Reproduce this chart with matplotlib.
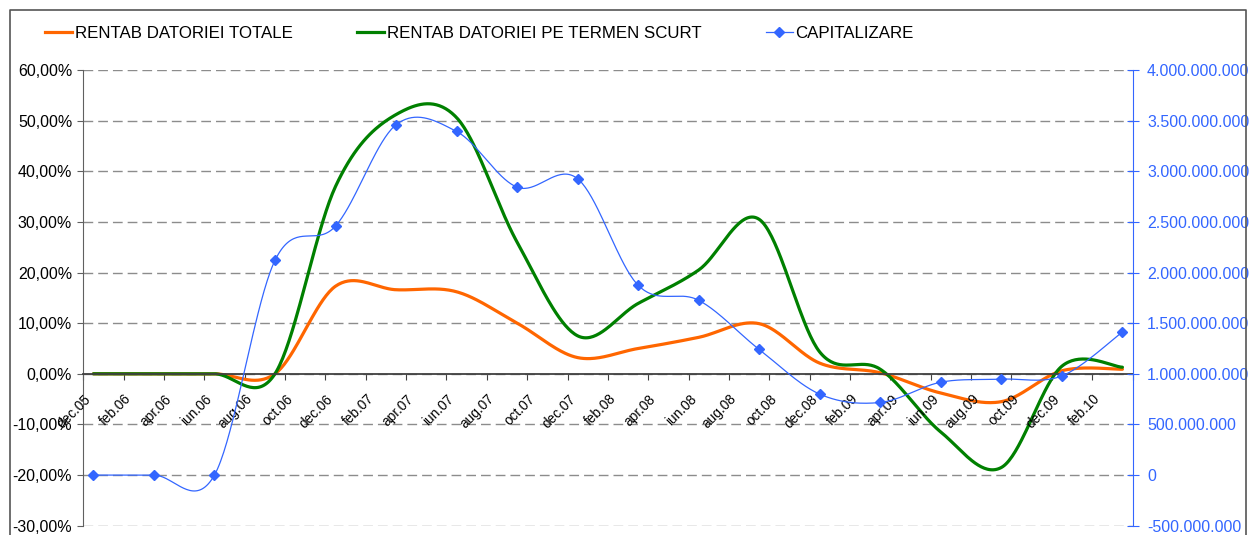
import numpy as np
import matplotlib.pyplot as plt
import matplotlib.transforms as mtransforms
from matplotlib.lines import Line2D
from matplotlib.ticker import FuncFormatter

plt.rcParams['font.family'] = ['Liberation Sans', 'DejaVu Sans']

# quarterly observations (dec.05 .. mar.10)
quarters = ['dec.05', 'mar.06', 'iun.06', 'sep.06', 'dec.06', 'mar.07', 'iun.07', 'sep.07', 'dec.07',
            'mar.08', 'iun.08', 'sep.08', 'dec.08', 'mar.09', 'iun.09', 'sep.09', 'dec.09', 'mar.10']
rentab_totale = [0, 0, 0, 0, 17.3, 16.6, 16.2, 10.0, 3.2, 5.0, 7.2, 9.9, 2.1, 0.2, -3.8, -5.5, 0.6, 0.9]
rentab_scurt = [0, 0, 0, 0, 37.0, 51.2, 50.6, 26.0, 7.5, 13.9, 20.5, 30.5, 4.3, 0.9, -11.5, -18.5, 1.5, 1.3]
capitalizare = [0, 0, 0, 2.120e9, 2.459e9, 3.459e9, 3.393e9, 2.843e9, 2.926e9, 1.874e9, 1.726e9,
                1.240e9, 0.799e9, 0.717e9, 0.917e9, 0.947e9, 0.979e9, 1.413e9]

# monthly category axis, every second month labelled
month_labels = ['dec.05', 'feb.06', 'apr.06', 'iun.06', 'aug.06', 'oct.06', 'dec.06', 'feb.07', 'apr.07',
                'iun.07', 'aug.07', 'oct.07', 'dec.07', 'feb.08', 'apr.08', 'iun.08', 'aug.08', 'oct.08',
                'dec.08', 'feb.09', 'apr.09', 'iun.09', 'aug.09', 'oct.09', 'dec.09', 'feb.10']
n_months = 52

ORANGE = '#FF6600'
GREEN = '#008000'
BLUE = '#3366FF'


def excel_smooth(xs, ys, n=40):
    # bezier through the points, control points like excel's "smoothed line"
    xs = np.asarray(xs, float)
    ys = np.asarray(ys, float)
    t = np.linspace(0, 1, n)
    b0, b1, b2, b3 = (1 - t) ** 3, 3 * (1 - t) ** 2 * t, 3 * (1 - t) * t ** 2, t ** 3
    out_x, out_y = [], []
    m = len(xs)
    for i in range(m - 1):
        j0 = max(i - 1, 0)
        j3 = min(i + 2, m - 1)
        cx1 = xs[i] + (xs[i + 1] - xs[j0]) / 6
        cy1 = ys[i] + (ys[i + 1] - ys[j0]) / 6
        cx2 = xs[i + 1] - (xs[j3] - xs[i]) / 6
        cy2 = ys[i + 1] - (ys[j3] - ys[i]) / 6
        out_x.append(b0 * xs[i] + b1 * cx1 + b2 * cx2 + b3 * xs[i + 1])
        out_y.append(b0 * ys[i] + b1 * cy1 + b2 * cy2 + b3 * ys[i + 1])
    return np.concatenate(out_x), np.concatenate(out_y)


W, H = 1249, 535
fig = plt.figure(figsize=(W / 100, H / 100), dpi=100)
ax = fig.add_axes([83.3 / W, 1 - 525.7 / H, (1132.5 - 83.3) / W, (525.7 - 70) / H])
ax2 = ax.twinx()

xq = np.arange(len(quarters)) * 3

sx, sy = excel_smooth(xq, rentab_totale)
ax.plot(sx, sy, color=ORANGE, lw=2.3, solid_capstyle='round')
sx, sy = excel_smooth(xq, rentab_scurt)
ax.plot(sx, sy, color=GREEN, lw=2.3, solid_capstyle='round')

sx, sy = excel_smooth(xq, capitalizare)
ax2.plot(sx, sy, color=BLUE, lw=0.9)
ax2.plot(xq, capitalizare, ls='none', marker='D', ms=5.5, color=BLUE)

# left axis
ax.set_xlim(-0.5, n_months - 0.5)
ax.set_ylim(-30, 60)
ax.set_yticks(np.arange(-30, 61, 10))
ax.yaxis.set_major_formatter(FuncFormatter(lambda v, p: f'{v:.2f}%'.replace('.', ',')))
ax.yaxis.grid(True, linestyle=(0, (7, 3.6)), color='#8c8c8c', lw=1.0)
ax.set_axisbelow(True)
ax.tick_params(axis='y', direction='out', length=4, color='#606060', labelsize=11.5, pad=4)

ax.spines['top'].set_visible(False)
ax.spines['right'].set_visible(False)
ax.spines['left'].set_color('#606060')
ax.spines['bottom'].set_position(('data', 0))
ax.spines['bottom'].set_color('#404040')
ax.spines['bottom'].set_linewidth(1.3)

ax.set_xticks(np.arange(-0.5, n_months, 2))
ax.set_xticklabels([])
ax.tick_params(axis='x', which='major', direction='out', length=4, color='#404040')

# category labels under the zero line, rotated
lab_trans = mtransforms.offset_copy(ax.transData, fig=fig, x=-9.5, y=-18, units='dots')
for i, lab in zip(range(0, n_months, 2), month_labels):
    ax.text(i, 0, lab, transform=lab_trans, rotation=45, ha='right', va='top',
            rotation_mode='anchor', fontsize=9.8, clip_on=False)

# right axis
ax2.set_ylim(-5e8, 4e9)
ax2.set_yticks(np.arange(-5e8, 4.01e9, 5e8))
ax2.yaxis.set_major_formatter(FuncFormatter(lambda v, p: f'{int(round(v)):,}'.replace(',', '.')))
ax2.tick_params(axis='y', direction='inout', length=9, color=BLUE, labelcolor=BLUE, labelsize=11.5, pad=6)
for s in ['top', 'left', 'bottom']:
    ax2.spines[s].set_visible(False)
ax2.spines['right'].set_color(BLUE)

# legend on top
handles = [Line2D([], [], color=ORANGE, lw=2.3),
           Line2D([], [], color=GREEN, lw=2.3),
           Line2D([], [], color=BLUE, lw=0.9, marker='D', ms=5)]
labels = ['RENTAB DATORIEI TOTALE', 'RENTAB DATORIEI PE TERMEN SCURT', 'CAPITALIZARE']
fig.legend(handles, labels, loc='center left', bbox_to_anchor=(45 / W, 1 - 33 / H), ncol=3,
           frameon=False, fontsize=12.2, handlelength=1.6, handletextpad=0.15, columnspacing=3.8,
           borderaxespad=0, borderpad=0)

# chart frame
fig.add_artist(Line2D([10 / W, 10 / W, 1246 / W, 1246 / W], [0, 1 - 9.5 / H, 1 - 9.5 / H, 0],
                      transform=fig.transFigure, color='#555555', lw=1.2))

fig.savefig('out.png', dpi=100)
